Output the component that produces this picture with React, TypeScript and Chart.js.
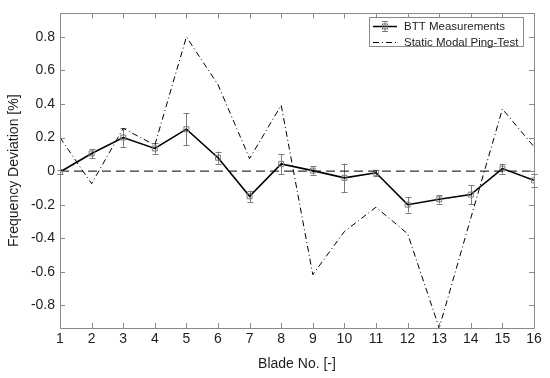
import React, { useEffect, useRef } from "react";
import { Chart, registerables } from "chart.js";

Chart.register(...registerables);

const blades = [1, 2, 3, 4, 5, 6, 7, 8, 9, 10, 11, 12, 13, 14, 15, 16];
const bttValues = [-0.005, 0.105, 0.2, 0.135, 0.25, 0.08, -0.15, 0.043, 0.003, -0.04, -0.01, -0.2, -0.168, -0.14, 0.015, -0.055];
const bttErrors = [0.012, 0.026, 0.055, 0.03, 0.096, 0.036, 0.033, 0.059, 0.025, 0.085, 0.018, 0.047, 0.025, 0.057, 0.03, 0.04];
const pingValues = [0.2, -0.075, 0.255, 0.155, 0.8, 0.515, 0.075, 0.393, -0.617, -0.36, -0.215, -0.373, -0.935, -0.28, 0.37, 0.145];
const yTickValues = [-0.8, -0.6, -0.4, -0.2, 0, 0.2, 0.4, 0.6, 0.8];
const xTickValues = blades;
const legendLabels = ["BTT Measurements", "Static Modal Ping-Test"];
const xTitle = "Blade No. [-]";
const yTitle = "Frequency Deviation [%]";
const yMin = -0.935;
const yMax = 0.94;

const FONT = "'Liberation Sans', Arial, sans-serif";
const AXIS_COLOR = "#8a8a8a";
const TEXT_COLOR = "#1e1e1e";
const ERR_COLOR = "#7a7a7a";

const framePlugin = {
  id: "frameAndExtras",
  beforeDatasetsDraw(chart: any) {
    const { ctx, scales } = chart;
    const xs = scales.x;
    const ys = scales.y;
    ctx.save();
    ctx.strokeStyle = ERR_COLOR;
    ctx.lineWidth = 1;
    for (let i = 0; i < blades.length; i++) {
      const px = Math.round(xs.getPixelForValue(blades[i])) + 0.5;
      const top = ys.getPixelForValue(bttValues[i] + bttErrors[i]);
      const bot = ys.getPixelForValue(bttValues[i] - bttErrors[i]);
      ctx.beginPath();
      ctx.moveTo(px, top);
      ctx.lineTo(px, bot);
      ctx.moveTo(px - 3, Math.round(top) + 0.5);
      ctx.lineTo(px + 3, Math.round(top) + 0.5);
      ctx.moveTo(px - 3, Math.round(bot) + 0.5);
      ctx.lineTo(px + 3, Math.round(bot) + 0.5);
      ctx.stroke();
    }
    ctx.restore();
  },
  afterDraw(chart: any) {
    const { ctx, chartArea, scales } = chart;
    const { left, right, top, bottom } = chartArea;
    const xs = scales.x;
    const ys = scales.y;
    ctx.save();
    ctx.strokeStyle = AXIS_COLOR;
    ctx.lineWidth = 1;
    ctx.beginPath();
    ctx.rect(Math.round(left) + 0.5, Math.round(top) + 0.5, Math.round(right - left), Math.round(bottom - top));
    ctx.stroke();
    const tl = 5;
    ctx.beginPath();
    for (const v of xTickValues) {
      const px = Math.round(xs.getPixelForValue(v)) + 0.5;
      ctx.moveTo(px, bottom);
      ctx.lineTo(px, bottom - tl);
      ctx.moveTo(px, top);
      ctx.lineTo(px, top + tl);
    }
    for (const v of yTickValues) {
      const py = Math.round(ys.getPixelForValue(v)) + 0.5;
      ctx.moveTo(left, py);
      ctx.lineTo(left + tl, py);
      ctx.moveTo(right, py);
      ctx.lineTo(right - tl, py);
    }
    ctx.stroke();

    // legend
    const bx = 369.5, by = 17.5, bw = 154, bh = 29;
    ctx.fillStyle = "#ffffff";
    ctx.fillRect(bx, by, bw, bh);
    ctx.strokeStyle = AXIS_COLOR;
    ctx.strokeRect(bx, by, bw, bh);
    const rows = [26.5, 42.5];
    const lx0 = 373, lx1 = 397;
    ctx.strokeStyle = "#000";
    ctx.lineWidth = 1.5;
    ctx.setLineDash([]);
    ctx.beginPath();
    ctx.moveTo(lx0, rows[0]);
    ctx.lineTo(lx1, rows[0]);
    ctx.stroke();
    const mx = (lx0 + lx1) / 2;
    ctx.strokeStyle = ERR_COLOR;
    ctx.lineWidth = 1;
    ctx.beginPath();
    ctx.moveTo(mx, rows[0] - 5);
    ctx.lineTo(mx, rows[0] + 5);
    ctx.moveTo(mx - 3, rows[0] - 5);
    ctx.lineTo(mx + 3, rows[0] - 5);
    ctx.moveTo(mx - 3, rows[0] + 5);
    ctx.lineTo(mx + 3, rows[0] + 5);
    ctx.stroke();
    ctx.strokeRect(mx - 2.5, rows[0] - 2.5, 5, 5);
    ctx.strokeStyle = "#000";
    ctx.lineWidth = 1;
    ctx.setLineDash([6, 3, 1, 3]);
    ctx.beginPath();
    ctx.moveTo(lx0, rows[1]);
    ctx.lineTo(lx1, rows[1]);
    ctx.stroke();
    ctx.setLineDash([]);
    ctx.fillStyle = TEXT_COLOR;
    ctx.font = "11.5px " + FONT;
    ctx.textAlign = "left";
    ctx.textBaseline = "middle";
    ctx.fillText(legendLabels[0], 404, rows[0]);
    ctx.fillText(legendLabels[1], 404, rows[1]);
    ctx.restore();
  },
};

export default function App() {
  const ref = useRef<HTMLCanvasElement | null>(null);
  useEffect(() => {
    if (!ref.current) return;
    const chart = new Chart(ref.current, {
      type: "line",
      data: {
        datasets: [
          {
            label: "zero",
            data: [
              { x: blades[0], y: 0 },
              { x: blades[blades.length - 1], y: 0 },
            ],
            borderColor: "#000",
            borderWidth: 1,
            borderDash: [9, 5],
            pointRadius: 0,
          },
          {
            label: legendLabels[1],
            data: blades.map((b, i) => ({ x: b, y: pingValues[i] })),
            borderColor: "#000",
            borderWidth: 1,
            borderDash: [6, 3, 1, 3],
            pointRadius: 0,
            tension: 0,
          },
          {
            label: legendLabels[0],
            data: blades.map((b, i) => ({ x: b, y: bttValues[i] })),
            borderColor: "#000",
            borderWidth: 1.6,
            pointStyle: "rect",
            pointRadius: 3.5,
            pointBorderColor: ERR_COLOR,
            pointBackgroundColor: "rgba(255,255,255,0)",
            pointBorderWidth: 1,
            tension: 0,
          },
        ],
      },
      options: {
        animation: false,
        responsive: false,
        maintainAspectRatio: false,
        layout: { padding: { left: 0, right: 16, top: 8, bottom: 0 } },
        plugins: { legend: { display: false }, tooltip: { enabled: false } },
        scales: {
          x: {
            type: "linear",
            min: 1,
            max: 16,
            grid: { display: false, drawTicks: false, tickLength: 0 },
            border: { display: false },
            afterBuildTicks: (s: any) => {
              s.ticks = xTickValues.map((v) => ({ value: v }));
            },
            afterFit: (s: any) => {
              s.height = 50;
            },
            ticks: {
              padding: 3,
              color: TEXT_COLOR,
              font: { family: FONT, size: 14 },
              maxRotation: 0,
              autoSkip: false,
              callback: (v: any) => String(v),
            },
            title: {
              display: true,
              text: xTitle,
              color: TEXT_COLOR,
              font: { family: FONT, size: 14 },
              padding: { top: 4, bottom: 5 },
            },
          },
          y: {
            type: "linear",
            min: yMin,
            max: yMax,
            grid: { display: false, drawTicks: false, tickLength: 0 },
            border: { display: false },
            afterBuildTicks: (s: any) => {
              s.ticks = yTickValues.map((v) => ({ value: v }));
            },
            afterFit: (s: any) => {
              s.width = 60;
            },
            ticks: {
              padding: 5,
              color: TEXT_COLOR,
              font: { family: FONT, size: 14 },
              autoSkip: false,
              callback: (v: any) => (Math.abs(v) < 1e-9 ? "0" : String(Math.round(v * 10) / 10)),
            },
            title: {
              display: true,
              text: yTitle,
              color: TEXT_COLOR,
              font: { family: FONT, size: 14 },
              padding: { top: 6, bottom: 4 },
            },
          },
        },
      },
      plugins: [framePlugin],
    });
    return () => chart.destroy();
  }, []);
  return (
    <div style={{ position: "absolute", left: 0, top: 0, width: 550, height: 378, background: "#fff" }}>
      <canvas ref={ref} width={550} height={378} />
    </div>
  );
}
